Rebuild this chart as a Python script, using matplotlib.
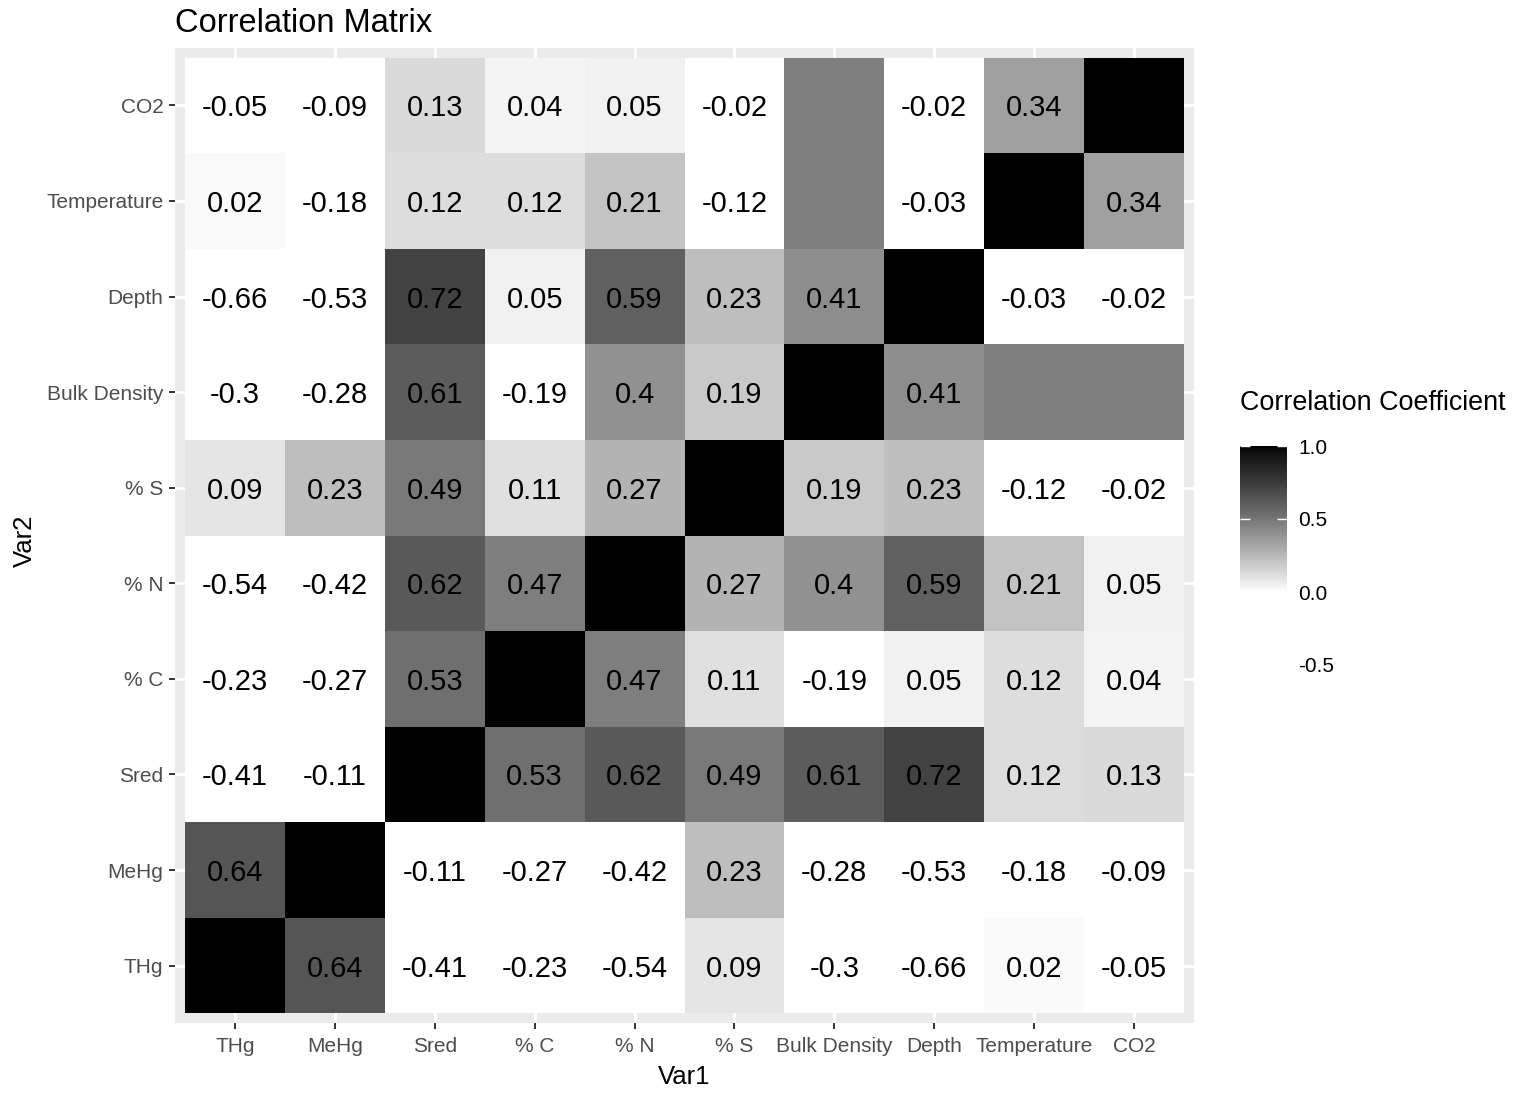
"""
Correlation matrix heatmap of sediment chemistry variables, greyscale.
"""

import numpy as np
import matplotlib
matplotlib.use("Agg")
import matplotlib.pyplot as plt
from matplotlib.colors import ListedColormap, Normalize

plt.rcParams['font.family'] = ['Liberation Sans', 'DejaVu Sans']

W, H = 1514, 1093

VARIABLES = ["THg", "MeHg", "Sred", "% C", "% N", "% S",
             "Bulk Density", "Depth", "Temperature", "CO2"]

# Upper triangle of the correlation matrix, row by row (NaN = not computed).
THG = [0.64, -0.41, -0.23, -0.54, 0.09, -0.3, -0.66, 0.02, -0.05]
MEHG = [-0.11, -0.27, -0.42, 0.23, -0.28, -0.53, -0.18, -0.09]
SRED = [0.53, 0.62, 0.49, 0.61, 0.72, 0.12, 0.13]
PCT_C = [0.47, 0.11, -0.19, 0.05, 0.12, 0.04]
PCT_N = [0.27, 0.4, 0.59, 0.21, 0.05]
PCT_S = [0.19, 0.23, -0.12, -0.02]
BULK_DENSITY = [0.41, np.nan, np.nan]
DEPTH = [-0.03, -0.02]
TEMPERATURE = [0.34]

UPPER_ROWS = [THG, MEHG, SRED, PCT_C, PCT_N, PCT_S, BULK_DENSITY, DEPTH, TEMPERATURE]

CBAR_TICKS = [-0.5, 0.0, 0.5, 1.0]


def build_matrix():
    n = len(VARIABLES)
    corr = np.eye(n)
    for i, row in enumerate(UPPER_ROWS):
        for k, v in enumerate(row):
            j = i + 1 + k
            corr[i, j] = v
            corr[j, i] = v
    return corr


def lab_grey(v):
    """White-to-black grey for v in [0, 1], interpolated linearly in L*."""
    L = 100.0 * (1.0 - v)
    fy = (L + 16.0) / 116.0
    Y = np.where(fy ** 3 > 0.008856, fy ** 3, (L / 903.3))
    s = np.where(Y <= 0.0031308, 12.92 * Y, 1.055 * Y ** (1 / 2.4) - 0.055)
    return np.clip(s, 0, 1)


def main():
    corr = build_matrix()
    n = len(VARIABLES)
    vmin, vmax = np.nanmin(corr), 1.0

    # Negative correlations fade to white, positives run white -> black.
    vals = np.linspace(vmin, vmax, 512)
    g = lab_grey(np.clip(vals, 0, 1))
    cmap = ListedColormap(np.column_stack([g, g, g]))
    cmap.set_bad("#7f7f7f")
    norm = Normalize(vmin=vmin, vmax=vmax)

    fig = plt.figure(figsize=(W / 100, H / 100), dpi=100)
    ax = fig.add_axes([175 / W, 1 - 1023 / H, (1194 - 175) / W, (1023 - 48) / H])
    ax.set_facecolor("#ebebeb")

    edges = np.arange(n + 1) - 0.5
    # corr[row=Var1, col=Var2]; y is Var2, so transpose for pcolormesh
    mesh = ax.pcolormesh(edges, edges, np.ma.masked_invalid(corr.T),
                         cmap=cmap, norm=norm, zorder=2)

    for i in range(n):
        for j in range(n):
            v = corr[i, j]
            if i == j or np.isnan(v):
                continue
            ax.text(i, j, f"{round(v, 2):g}", ha="center", va="center_baseline",
                    fontsize=21, color="black", zorder=3)

    ax.set_xlim(-0.6, n - 0.4)
    ax.set_ylim(-0.6, n - 0.4)
    ax.set_xticks(range(n))
    ax.set_yticks(range(n))
    ax.set_xticklabels(VARIABLES)
    ax.set_yticklabels(VARIABLES, va="center_baseline")
    ax.grid(True, color="white", linewidth=2, zorder=1)
    ax.set_axisbelow(True)
    ax.tick_params(length=4.3, width=1.4, color="#333333", labelcolor="#4d4d4d",
                   labelsize=15, pad=4)
    ax.tick_params(axis="x", pad=6)
    for s in ax.spines.values():
        s.set_visible(False)

    fig.text(175 / W, 1 - 23 / H, "Correlation Matrix", fontsize=23.5,
             ha="left", va="center")
    fig.text(684 / W, 1 - 1077 / H, "Var1", fontsize=18.5, ha="center", va="center")
    fig.text(25 / W, 1 - 541 / H, "Var2", fontsize=18.5, ha="center", va="center",
             rotation=90)

    # Legend: colour bar spanning the full data range
    px_per_unit = 146
    top = 446
    bottom = top + (vmax - vmin) * px_per_unit
    cax = fig.add_axes([1240 / W, 1 - bottom / H, 47 / W, (bottom - top) / H])
    cb = fig.colorbar(mesh, cax=cax, ticks=CBAR_TICKS)
    cb.outline.set_visible(False)
    cb.ax.set_yticklabels([f"{t:.1f}" for t in CBAR_TICKS])
    cb.ax.tick_params(direction="in", color="white", length=7, width=1,
                      left=True, right=True, labelsize=15, pad=8)
    fig.text(1240 / W, 1 - 403 / H, "Correlation Coefficient", fontsize=19.4,
             ha="left", va="center")

    fig.savefig("out.png", dpi=100)


if __name__ == "__main__":
    main()
